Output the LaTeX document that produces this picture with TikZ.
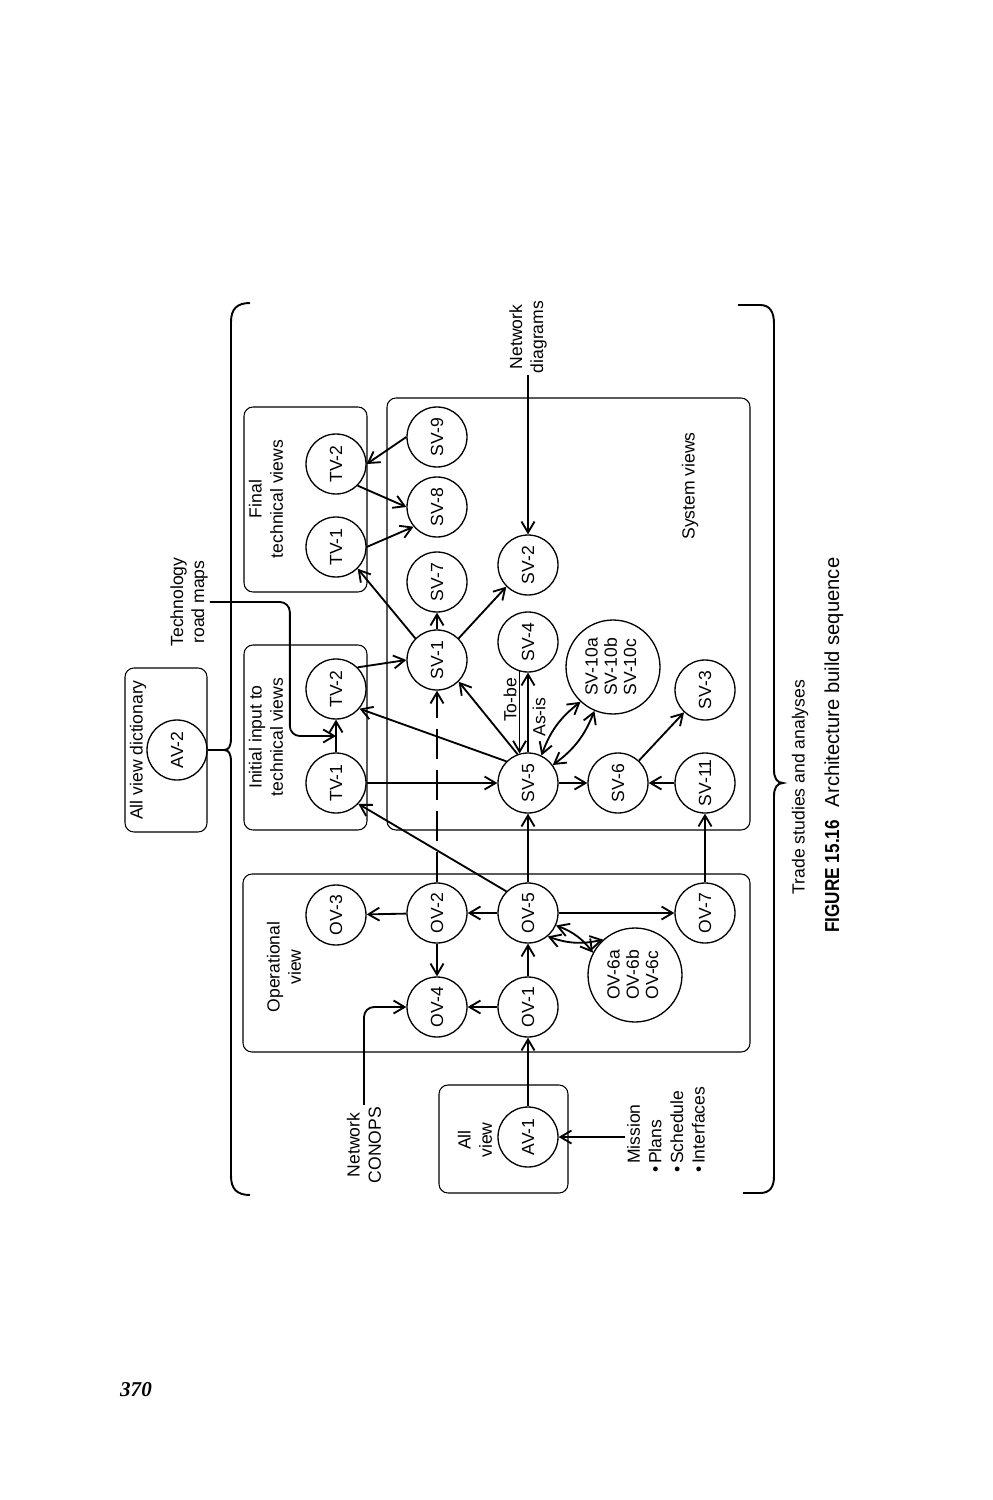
\documentclass[tikz,border=0pt]{standalone}
\usepackage{fontspec}
\setmainfont{Liberation Sans}
\newfontfamily\pnfont{Liberation Serif}
\usetikzlibrary{arrows.meta,fit,calc}
\newcommand\lblfont{\fontsize{10}{12}\selectfont}
\newcommand\bigvwfont{\fontsize{10}{11}\selectfont}
\newcommand\rotlbl[1]{\rotatebox{90}{#1}}
\newcommand\threelines[1]{\begin{tabular}{@{}c@{}}#1\end{tabular}}
\begin{document}
\begin{tikzpicture}[x=0.02cm,y=-0.02cm,
  >={Straight Barb[length=2.2mm,width=2.6mm]},
  vw/.style={circle,draw,line width=0.75pt,minimum size=1.2cm,inner sep=0pt,font=\lblfont},
  bigvw/.style={vw,minimum size=1.88cm,font=\bigvwfont},
  grp/.style={draw,line width=0.6pt,rounded corners=0.18cm,inner sep=0pt},
  txt/.style={rotate=90,align=center,font=\lblfont,inner sep=1pt},
  arr/.style={line width=1.05pt,->},
  darr/.style={line width=1.05pt,<->},
  bracepath/.style={line width=1.1pt}]
\useasboundingbox (0,0) rectangle (993,1500);

% group boxes
\node[grp, fit={(125,668) (207,832)}] (avdict) {};
\node[grp, fit={(244,407) (367,592)}] (finaltv) {};
\node[grp, fit={(244,645) (367,830)}] (inittv) {};
\node[grp, fit={(387,398) (750,830)}] (svbox) {};
\node[grp, fit={(243,874) (750,1052)}] (ovbox) {};
\node[grp, fit={(439,1085) (568,1193)}] (allview) {};

% box labels
\node[txt] (lavdict) at (138,750) {All view dictionary};
\node[txt] (lfinal) at (266,499) {Final\\technical views};
\node[txt] (linit) at (266,737) {Initial input to\\technical views};
\node[txt] (lsv) at (690,486) {System views};
\node[txt] (lov) at (284,967) {Operational\\view};
\node[txt] (lall) at (475,1140) {All\\view};

% view nodes
\node[vw] (av2) at (177,750) {\rotlbl{AV-2}};
\node[vw] (tv2f) at (336,464) {\rotlbl{TV-2}};
\node[vw] (tv1f) at (336,547) {\rotlbl{TV-1}};
\node[vw] (tv2i) at (336,689) {\rotlbl{TV-2}};
\node[vw] (tv1i) at (336,783) {\rotlbl{TV-1}};
\node[vw] (sv9) at (437,437) {\rotlbl{SV-9}};
\node[vw] (sv8) at (437,507) {\rotlbl{SV-8}};
\node[vw] (sv7) at (437,582) {\rotlbl{SV-7}};
\node[vw] (sv1) at (437,660) {\rotlbl{SV-1}};
\node[vw] (sv2) at (528,565) {\rotlbl{SV-2}};
\node[vw] (sv4) at (528,642) {\rotlbl{SV-4}};
\node[bigvw] (sv10) at (613,667) {\rotlbl{\threelines{SV-10a\\SV-10b\\SV-10c}}};
\node[vw] (sv3) at (705,690) {\rotlbl{SV-3}};
\node[vw] (sv5) at (528,783) {\rotlbl{SV-5}};
\node[vw] (sv6) at (618,783) {\rotlbl{SV-6}};
\node[vw] (sv11) at (705,783) {\rotlbl{SV-11}};
\node[vw] (ov3) at (336,915) {\rotlbl{OV-3}};
\node[vw] (ov2) at (437,913) {\rotlbl{OV-2}};
\node[vw] (ov5) at (528,913) {\rotlbl{OV-5}};
\node[vw] (ov7) at (705,913) {\rotlbl{OV-7}};
\node[vw] (ov4) at (437,1007) {\rotlbl{OV-4}};
\node[vw] (ov1) at (528,1007) {\rotlbl{OV-1}};
\node[bigvw] (ov6) at (635,975) {\rotlbl{\threelines{OV-6a\\OV-6b\\OV-6c}}};
\node[vw] (av1) at (528,1137) {\rotlbl{AV-1}};

% outside labels
\node[txt] (tech) at (189,602) {Technology\\road maps};
\node[txt] (netdiag) at (528,337) {Network\\diagrams};
\node[txt] (conops) at (364,1145) {Network\\CONOPS};
\node[txt, align=left, anchor=west, font=\fontsize{10}{12.3}\selectfont] (mission) at (666,1166)
  {Mission\\\llap{\textbullet\,}Plans\\\llap{\textbullet\,}Schedule\\\llap{\textbullet\,}Interfaces};
\node[txt] (tobe) at (510,700) {To-be};
\node[txt] (asis) at (539,717) {As-is};
\node[txt, inner sep=0pt] (trade) at (800,787) {Trade studies and analyses};
\node[rotate=90, anchor=west, inner sep=0pt, font=\fontsize{11.5}{13}\selectfont] (cap) at (834,933)
  {\scalebox{0.85}[1]{\bfseries FIGURE 15.16}\hspace{0.26cm}Architecture build sequence};
\node[font=\pnfont\bfseries\itshape\fontsize{12}{14}\selectfont, inner sep=0pt] (pg) at (136,1390) {370};

% braces
\coordinate (lbtip) at (224,750);
\draw[bracepath] (250,303) .. controls (237,303) and (231,309) .. (231,322) -- (231,738)
  .. controls (231,746) and (229,750) .. (lbtip) .. controls (229,750) and (231,754) .. (231,762)
  -- (231,1176) .. controls (231,1189) and (237,1195) .. (250,1195);
\draw[bracepath] (avdict.east) -- (lbtip);
\coordinate (rbtip) at (783,783);
\draw[bracepath] (738,305) -- (760,305) .. controls (770,305) and (774,312) .. (774,324) -- (774,770)
  .. controls (774,778) and (777,783) .. (rbtip) .. controls (777,783) and (774,788) .. (774,796)
  -- (774,1176) .. controls (774,1187) and (770,1193) .. (760,1193) -- (743,1193);

% technical view connections
\coordinate (tvmid) at ($(tv1i.north)!0.5!(tv2i.south)$);
\draw[arr] (tv1i) -- (tv2i);
\draw[arr, rounded corners=0.2cm] (tech.south) -- ++(80,0) |- (tvmid);
\draw[arr] (sv5.135) -- (tv2i.-40);
\draw[arr] (ov5.135) -- (tv1i.-43);
\draw[arr] (tv1i) -- (sv5);
\draw[arr] (tv2i.45) -- (sv1.west);
\draw[arr] (sv1.135) -- (tv1f.-45);
\draw[arr] (tv1f.east) -- (sv8.-140);
\draw[arr] (tv2f.-45) -- (sv8.west);
\draw[arr] (sv9.west) -- (tv2f.east);

% system view connections
\draw[arr] (sv1) -- (sv7);
\draw[arr] (sv1.45) -- (sv2.-135);
\draw[arr] (netdiag.west) -- (sv2);
\draw[arr] (sv5.110) -- (sv1.-45);
\draw[arr] (sv4.-106) -- (sv5.106);
\draw[arr] (sv5.north) -- (sv4.south);
\draw[darr] (sv5.64) to[bend left=16] (sv10.-133);
\draw[darr] (sv5.36) to[bend right=16] (sv10.-113);
\draw[arr] (sv5) -- (sv6);
\draw[arr] (sv11) -- (sv6);
\draw[arr] (sv6) -- (sv3);

% operational view connections
\draw[arr] (ov5) -- (sv5);
\draw[arr] (ov7) -- (sv11);
\draw[arr, dash pattern=on 0.6cm off 0.22cm] (ov2) -- (sv1);
\draw[arr] (ov1) -- (ov4);
\draw[arr] (ov1) -- (ov5);
\draw[arr] (ov2) -- (ov4);
\draw[arr] (ov5) -- (ov2);
\draw[arr] (ov2) -- (ov3);
\draw[arr] (ov5) -- (ov7);
\draw[darr] (ov5.-24) to[bend left=16] (ov6.152);
\draw[darr] (ov5.-50) to[bend right=16] (ov6.132);
\draw[arr] (av1) -- (ov1);
\draw[arr] (mission.north |- av1) -- (av1);
\draw[arr, rounded corners=0.2cm] (conops.east) |- (ov4.west);
\end{tikzpicture}
\end{document}
